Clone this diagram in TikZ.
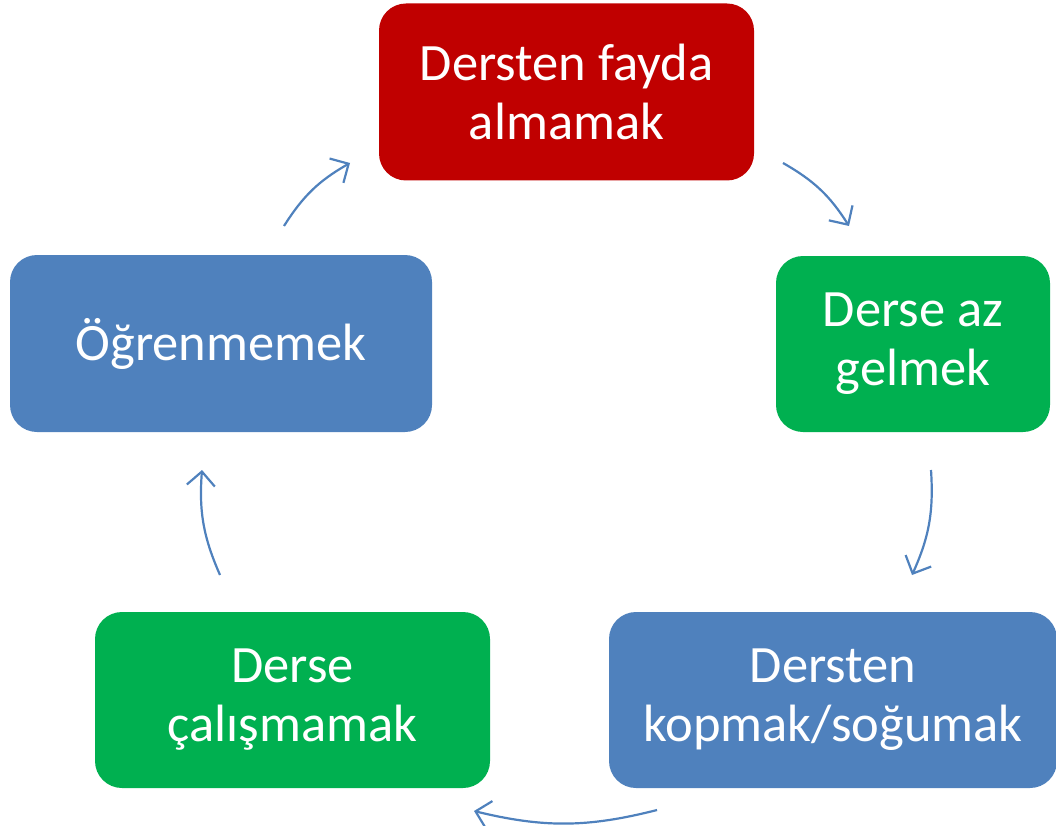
\documentclass[tikz,border=0pt]{standalone}
\usepackage{fontspec}
\setmainfont{Carlito}
\usetikzlibrary{arrows.meta}
\definecolor{boxred}{HTML}{C00000}
\definecolor{boxgreen}{HTML}{00B050}
\definecolor{boxblue}{HTML}{4F81BD}
\begin{document}
\begin{tikzpicture}[x=1pt,y=-1pt,
  box/.style={rectangle, rounded corners=27pt, inner sep=0pt, align=center,
    text=white, font=\fontsize{52.5}{59}\selectfont},
  cyc/.style={draw=boxblue, line width=2.2pt,
    -{Straight Barb[length=14pt,width=28pt,line width=2.2pt]}, bend left=14}]
\useasboundingbox (0,0) rectangle (1056,826);
\node[box, fill=boxred, minimum width=375pt, minimum height=177pt] (a) at (566.5,92) {Dersten fayda\\almamak};
\node[box, fill=boxgreen, minimum width=274pt, minimum height=176pt] (b) at (913,344) {Derse az\\gelmek};
\node[box, fill=boxblue, minimum width=448pt, minimum height=176pt] (c) at (833,700) {Dersten\\kopmak/soğumak};
\node[box, fill=boxgreen, minimum width=395pt, minimum height=176pt] (d) at (292.5,700) {Derse\\çalışmamak};
\node[box, fill=boxblue, minimum width=422pt, minimum height=177pt] (e) at (221,343.5) {Öğrenmemek};
\coordinate (ab1) at (783,163); \coordinate (ab2) at (849,226);
\coordinate (bc1) at (931,470); \coordinate (bc2) at (912,575);
\coordinate (cd1) at (657,810); \coordinate (cd2) at (474,811);
\coordinate (de1) at (220,575); \coordinate (de2) at (202,470);
\coordinate (ea1) at (284,226); \coordinate (ea2) at (350,163);
\draw[cyc] (ab1) to (ab2);
\draw[cyc] (bc1) to (bc2);
\draw[cyc] (cd1) to (cd2);
\draw[cyc] (de1) to (de2);
\draw[cyc] (ea1) to (ea2);
\end{tikzpicture}
\end{document}
